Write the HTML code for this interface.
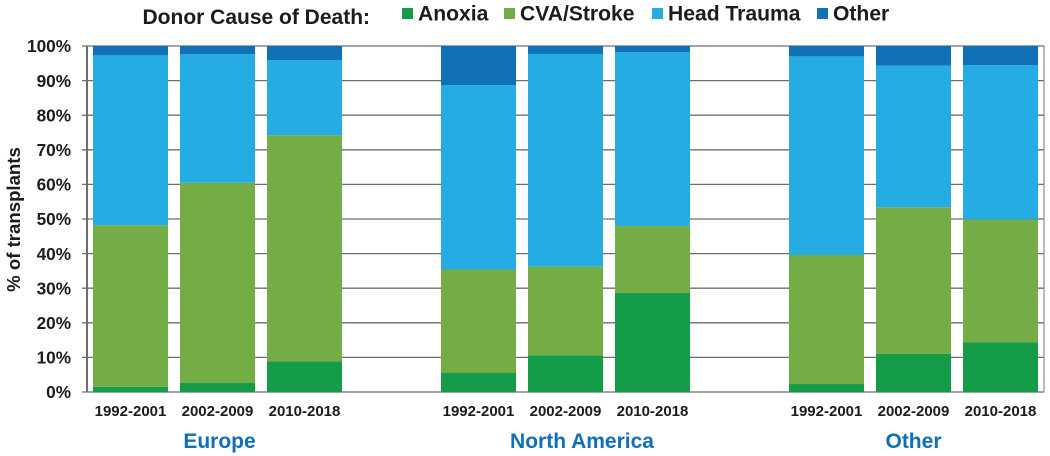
<!DOCTYPE html>
<html lang="en">
<head>
<meta charset="utf-8">
<title>Donor Cause of Death</title>
<style>
html,body{margin:0;padding:0;background:#fff;width:1050px;height:456px;overflow:hidden}
svg{display:block;font-family:"Liberation Sans",Arial,sans-serif;font-weight:bold}
</style>
</head>
<body>
<svg id="chart" xmlns="http://www.w3.org/2000/svg" width="1050" height="456" viewBox="0 0 1050 456"></svg>
<script>
const regions = ['Europe', 'North America', 'Other'];
const periods = ['1992-2001', '2002-2009', '2010-2018'];
const yTicks = [0, 10, 20, 30, 40, 50, 60, 70, 80, 90, 100];
const seriesNames = ['Anoxia', 'CVA/Stroke', 'Head Trauma', 'Other'];
const anoxia = [1.5, 2.7, 8.8, 5.6, 10.6, 28.7, 2.3, 11.0, 14.4];
const cvaStroke = [46.7, 57.8, 65.4, 29.8, 25.6, 19.3, 37.3, 42.4, 35.5];
const headTrauma = [49.1, 37.1, 21.7, 53.3, 61.5, 50.2, 57.4, 40.9, 44.6];
const otherCause = [2.7, 2.4, 4.1, 11.3, 2.3, 1.8, 3.0, 5.7, 5.5];

const seriesValues = [anoxia, cvaStroke, headTrauma, otherCause];
const colors = ['#149c49', '#74ac46', '#25ace3', '#1071b8'];
const NS = 'http://www.w3.org/2000/svg';
const svg = document.getElementById('chart');

function y(v) { return 392 - v * 3.46; }
function barX(i) {
  const group = Math.floor(i / 3);
  return 93 + group * 348 + (i % 3) * 87;
}
function el(tag, attrs, text) {
  const e = document.createElementNS(NS, tag);
  for (const k in attrs) e.setAttribute(k, attrs[k]);
  if (text !== undefined) e.textContent = text;
  svg.appendChild(e);
  return e;
}

// Gridlines and y ticks
yTicks.forEach(function (t) {
  const g = el('line', { x1: 82, x2: 1044, y1: y(t), y2: y(t), stroke: '#6d6e70', 'stroke-width': 1.3 });
  
  
  const l = el('text', { x: 71, y: y(t) + 6.2, 'text-anchor': 'end', 'font-size': 17.2, fill: '#1d1b1c' }, t + '%');
  
  
});

// Axis frame
const leftAxis = el('line', { x1: 87, x2: 87, y1: 45.5, y2: 392.5, stroke: '#6d6e70', 'stroke-width': 2 });


const rightAxis = el('line', { x1: 1044, x2: 1044, y1: 45.5, y2: 392.5, stroke: '#8a8b8d', 'stroke-width': 1.2 });



// Bars
periods.concat(periods, periods).forEach(function (period, i) {
  let base = 0;
  seriesValues.forEach(function (vals, s) {
    const top = base + vals[i];
    const r = el('rect', { x: barX(i), y: y(top), width: 75, height: y(base) - y(top), fill: colors[s] });
    
    
    base = top;
  });
  const lab = el('text', { x: barX(i) + 37.5, y: 416, 'text-anchor': 'middle', 'font-size': 15, fill: '#1d1b1c' }, period);
  
  
});

// Region labels
const regionCenterOffset = [2, 16.5, 0];
regions.forEach(function (r, i) {
  const t = el('text', { x: barX(i * 3 + 1) + 37.5 + regionCenterOffset[i], y: 448, 'text-anchor': 'middle', 'font-size': 21, fill: '#0f6fb9' }, r);
  
  
});

// Y-axis title
const yTitle = el('text', { transform: 'translate(20,219.5) rotate(-90)', 'text-anchor': 'middle', 'font-size': 18.6, fill: '#1d1b1c' }, '% of transplants');



// Legend
const legendTitle = el('text', { x: 142.5, y: 24, 'font-size': 21, fill: '#1d1b1c' }, 'Donor Cause of Death:');


const legendSwatchX = [402, 504, 652, 817];
const legendTextX = [418, 520, 668, 833];
seriesNames.forEach(function (n, s) {
  const sw = el('rect', { x: legendSwatchX[s], y: 8, width: 11, height: 11, fill: colors[s] });
  
  
  const t = el('text', { x: legendTextX[s], y: 20.5, 'font-size': 21.1, fill: '#1d1b1c' }, n);
  
  
});
</script>
</body>
</html>
